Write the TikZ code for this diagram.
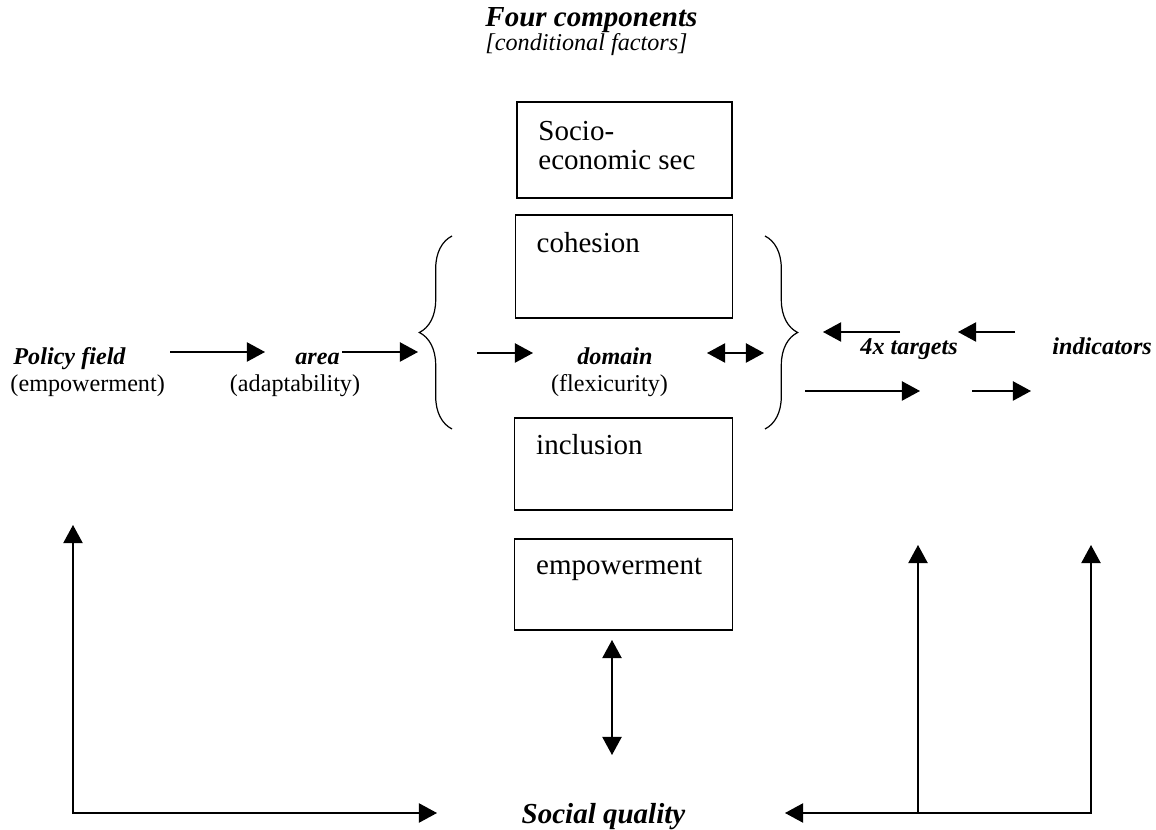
\documentclass[tikz,border=0pt]{standalone}
\usepackage{fontspec}
\setmainfont{Liberation Serif}
\usetikzlibrary{arrows.meta, positioning, decorations.pathreplacing}
\tikzset{
    block/.style={rectangle, draw=black, line width=0.5pt, minimum width=90pt, inner sep=0pt, outer sep=0pt},
    boxtext/.style={anchor=base west, inner sep=0pt, font=\fontsize{12}{11.7}\selectfont, align=left},
    lbl/.style={inner sep=0pt, font=\fontsize{10}{12}\selectfont},
    keyword/.style={inner sep=0pt, font=\fontsize{10}{12}\selectfont\bfseries\itshape},
    arrow/.style={line width=0.55pt, -{Triangle[length=7.5pt, width=8pt]}},
    twoway/.style={line width=0.55pt, {Triangle[length=7.5pt, width=8pt]}-{Triangle[length=7.5pt, width=8pt]}},
    curly/.style={line width=0.5pt, decorate, decoration={brace, amplitude=13.5pt}}
}

\begin{document}
\begin{tikzpicture}[x=0.4138pt, y=-0.4138pt]
    \useasboundingbox (0,0) rectangle (1156,830);

    % heading
    \node (title) [anchor=base west, inner sep=0pt, font=\fontsize{12}{14}\selectfont\bfseries\itshape] at (485,27) {Four components};
    \node (subtitle) [anchor=base west, inner sep=0pt, font=\fontsize{10}{12}\selectfont\itshape] at (485,51) {[conditional factors]};

    % the four components
    \node (socio) [block, minimum width=89pt, minimum height=39.7pt] at (624.5,150) {};
    \node (cohesion) [block, minimum height=42.6pt] at (624,266.5) {};
    \node (inclusion) [block, minimum height=38.1pt] at (623.5,464) {};
    \node (empower) [block, minimum height=37.7pt] at (623.5,584.5) {};
    \node (sociotxt) [boxtext] at ([shift={(21,67)}]socio.north west) {Socio-\\economic sec};
    \node (cohtxt) [boxtext] at ([shift={(21,37)}]cohesion.north west) {cohesion};
    \node (inctxt) [boxtext] at ([shift={(21,37)}]inclusion.north west) {inclusion};
    \node (emptxt) [boxtext] at ([shift={(21,36)}]empower.north west) {empowerment};

    % middle row
    \node (policy) [keyword, anchor=base west] at (13,365) {Policy field};
    \node (policysub) [lbl, anchor=base west] at (10,392) {(empowerment)};
    \node (area) [keyword, anchor=base] at (317.5,365) {area};
    \node (areasub) [lbl, anchor=base] at (295,392) {(adaptability)};
    \node (domain) [keyword, anchor=base] at (615,365) {domain};
    \node (domainsub) [lbl, anchor=base] at (609.5,392) {(flexicurity)};
    \node (targets) [keyword, anchor=base west] at (860,355) {4x targets};
    \node (indicators) [keyword, anchor=base west] at (1052,355) {indicators};
    \node (sq) [anchor=base, inner sep=0pt, font=\fontsize{12}{14}\selectfont\bfseries\itshape] at (603.5,823) {Social quality};

    % braces round the components
    \draw [curly] (452,429) -- (452,236);
    \draw [curly] (765,236) -- (765,429);

    % arrow ends
    \coordinate (p1) at (170,352);  \coordinate (p2) at (265,352);
    \coordinate (a1) at (342,352);  \coordinate (a2) at (418,352);
    \coordinate (d1) at (477,353);  \coordinate (d2) at (533,353);
    \coordinate (d3) at (707,353);  \coordinate (d4) at (764,353);
    \coordinate (t1) at (900,332);  \coordinate (t2) at (823,332);
    \coordinate (i1) at (1015,332); \coordinate (i2) at (958,332);
    \coordinate (t3) at (805,391);  \coordinate (t4) at (920,391);
    \coordinate (i3) at (972,391);  \coordinate (i4) at (1031,391);
    \coordinate (e1) at (612,640);  \coordinate (e2) at (612,755);
    \coordinate (left) at (73,525); \coordinate (sqleft) at (437,813);
    \coordinate (sqright) at (785,813);
    \coordinate (up1) at (918,545); \coordinate (base1) at (918,813);
    \coordinate (up2) at (1091,545);

    \draw [arrow] (p1) -- (p2);
    \draw [arrow] (a1) -- (a2);
    \draw [arrow] (d1) -- (d2);
    \draw [twoway] (d3) -- (d4);
    \draw [arrow] (t1) -- (t2);
    \draw [arrow] (i1) -- (i2);
    \draw [arrow] (t3) -- (t4);
    \draw [arrow] (i3) -- (i4);
    \draw [twoway] (e1) -- (e2);
    \draw [twoway] (left) |- (sqleft);
    \draw [twoway] (up2) |- (sqright);
    \draw [arrow] (base1) -- (up1);
\end{tikzpicture}
\end{document}
